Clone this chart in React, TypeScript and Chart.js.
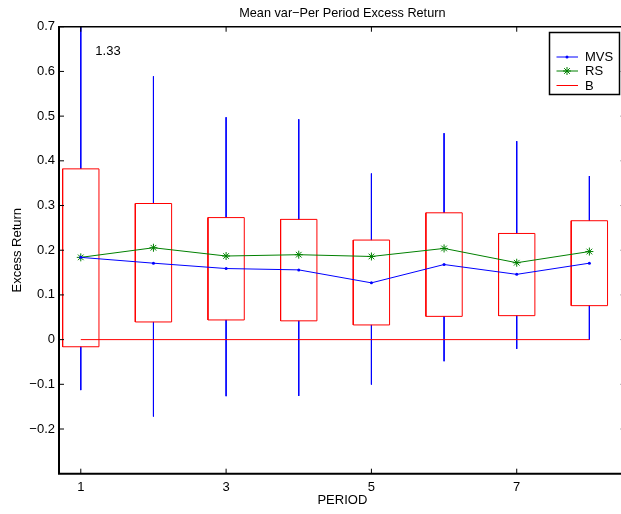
import { useEffect, useRef } from 'react';
import { Chart, registerables } from 'chart.js';

Chart.register(...registerables);

// ---- data ----
const periods = [1, 2, 3, 4, 5, 6, 7, 8];
const mvsMean = [0.184, 0.171, 0.159, 0.156, 0.127, 0.168, 0.146, 0.171];
const rsMean = [0.184, 0.2055, 0.187, 0.19, 0.186, 0.204, 0.172, 0.197];
const benchmark = [0, 0, 0, 0, 0, 0, 0, 0];
const boxTop = [0.382, 0.3045, 0.273, 0.269, 0.2227, 0.2837, 0.2375, 0.266];
const boxBottom = [-0.016, 0.0395, 0.044, 0.042, 0.0328, 0.052, 0.0536, 0.076];
const whiskerHigh = [1.33, 0.589, 0.4975, 0.493, 0.3716, 0.4618, 0.444, 0.366];
const whiskerLow = [-0.113, -0.172, -0.1266, -0.126, -0.1005, -0.0484, -0.0208, 0.0];
const xTickValues = [1, 3, 5, 7];
const yTickValues = [-0.2, -0.1, 0, 0.1, 0.2, 0.3, 0.4, 0.5, 0.6, 0.7];
const legendLabels = ['MVS', 'RS', 'B'];
const titleText = 'Mean var\u2212Per Period Excess Return';
const xTitle = 'PERIOD';
const yTitle = 'Excess Return';

const FONT = '"Liberation Sans", Arial, Helvetica, sans-serif';
const BOX_HALF = 0.25;
const BLUE = '#0000ff';
const GREEN = '#008000';
const RED = '#ff0000';

function fmtY(v: number): string {
  if (Math.abs(v) < 1e-9) return '0';
  const s = Math.abs(v).toFixed(1);
  return v < 0 ? '\u2212' + s : s;
}

const matlabPlugin = {
  id: 'matlabDecor',
  afterDraw(chart: any) {
    const ctx = chart.ctx;
    const { left, right, top, bottom } = chart.chartArea;
    const xs = chart.scales.x;
    const ys = chart.scales.y;
    ctx.save();
    ctx.strokeStyle = '#000';
    // box
    ctx.lineWidth = 1.5;
    ctx.beginPath();
    ctx.moveTo(left, top);
    ctx.lineTo(right, top);
    ctx.lineTo(right, bottom);
    ctx.stroke();
    ctx.lineWidth = 2;
    ctx.beginPath();
    ctx.moveTo(left, top - 0.75);
    ctx.lineTo(left, bottom);
    ctx.lineTo(right, bottom);
    ctx.stroke();
    // inward ticks
    ctx.lineWidth = 1;
    ctx.beginPath();
    for (const v of yTickValues) {
      const py = ys.getPixelForValue(v);
      ctx.moveTo(left, py);
      ctx.lineTo(left + 5, py);
      ctx.moveTo(right, py);
      ctx.lineTo(right - 5, py);
    }
    for (const v of xTickValues) {
      const px = xs.getPixelForValue(v);
      ctx.moveTo(px, bottom);
      ctx.lineTo(px, bottom - 5);
      ctx.moveTo(px, top);
      ctx.lineTo(px, top + 5);
    }
    ctx.stroke();

    // annotation of clipped whisker
    ctx.fillStyle = '#000';
    ctx.font = '13px ' + FONT;
    ctx.textAlign = 'left';
    ctx.textBaseline = 'middle';
    const ax = xs.getPixelForValue(periods[0] + 0.2);
    ctx.fillText(whiskerHigh[0].toFixed(2), ax, top + 25);

    // axis titles
    ctx.textAlign = 'center';
    ctx.fillText(xTitle, (left + right) / 2, 500);
    ctx.save();
    ctx.translate(17, (top + bottom) / 2);
    ctx.rotate(-Math.PI / 2);
    ctx.fillText(yTitle, 0, 0);
    ctx.restore();

    // legend
    const lx0 = 549.5, ly0 = 32.5, lw = 70, lh = 62;
    ctx.fillStyle = '#fff';
    ctx.fillRect(lx0, ly0, lw, lh);
    ctx.lineWidth = 1.5;
    ctx.strokeStyle = '#000';
    ctx.strokeRect(lx0, ly0, lw, lh);
    const rows = [57, 71, 85.5];
    const colors = [BLUE, GREEN, RED];
    rows.forEach((ry, i) => {
      ctx.strokeStyle = colors[i];
      ctx.lineWidth = 1;
      ctx.beginPath();
      ctx.moveTo(556.5, ry);
      ctx.lineTo(578, ry);
      ctx.stroke();
      if (i === 0) {
        ctx.fillStyle = BLUE;
        ctx.beginPath();
        ctx.arc(567, ry, 1.5, 0, Math.PI * 2);
        ctx.fill();
      } else if (i === 1) {
        ctx.beginPath();
        const r = 4;
        for (let k = 0; k < 4; k++) {
          const a = (k * Math.PI) / 4;
          ctx.moveTo(567 - r * Math.cos(a), ry - r * Math.sin(a));
          ctx.lineTo(567 + r * Math.cos(a), ry + r * Math.sin(a));
        }
        ctx.stroke();
      }
      ctx.fillStyle = '#000';
      ctx.textAlign = 'left';
      ctx.textBaseline = 'middle';
      ctx.font = '13px ' + FONT;
      ctx.fillText(legendLabels[i], 585, ry + 0.5);
    });
    ctx.restore();
  },
};

export default function App() {
  const ref = useRef<HTMLCanvasElement>(null);
  useEffect(() => {
    if (!ref.current) return;
    const whiskerPts: any[] = [];
    const boxPts: any[] = [];
    periods.forEach((p, i) => {
      whiskerPts.push({ x: p, y: whiskerHigh[i] }, { x: p, y: boxTop[i] }, { x: p, y: null });
      whiskerPts.push({ x: p, y: boxBottom[i] }, { x: p, y: whiskerLow[i] }, { x: p, y: null });
      boxPts.push(
        { x: p - BOX_HALF, y: boxBottom[i] },
        { x: p + BOX_HALF, y: boxBottom[i] },
        { x: p + BOX_HALF, y: boxTop[i] },
        { x: p - BOX_HALF, y: boxTop[i] },
        { x: p - BOX_HALF, y: boxBottom[i] },
        { x: p, y: null }
      );
    });
    const chart = new Chart(ref.current, {
      type: 'line',
      data: {
        datasets: [
          {
            label: legendLabels[0],
            data: periods.map((p, i) => ({ x: p, y: mvsMean[i] })),
            borderColor: BLUE,
            backgroundColor: BLUE,
            borderWidth: 1,
            pointRadius: 1.5,
            pointStyle: 'circle',
            pointBorderWidth: 0,
          },
          {
            label: legendLabels[1],
            data: periods.map((p, i) => ({ x: p, y: rsMean[i] })),
            borderColor: GREEN,
            backgroundColor: GREEN,
            borderWidth: 1,
            pointRadius: 4,
            pointStyle: 'star',
            pointBorderWidth: 1,
          },
          {
            label: legendLabels[2],
            data: periods.map((p, i) => ({ x: p, y: benchmark[i] })),
            borderColor: RED,
            borderWidth: 1,
            pointRadius: 0,
          },
          {
            label: 'boxes',
            data: boxPts,
            borderColor: RED,
            borderWidth: 1,
            pointRadius: 0,
            spanGaps: false,
          },
          {
            label: 'whiskers',
            data: whiskerPts,
            borderColor: BLUE,
            borderWidth: 1,
            pointRadius: 0,
            spanGaps: false,
          },
        ],
      },
      options: {
        responsive: false,
        animation: false,
        layout: { padding: { left: 0, right: 14.3, top: 0, bottom: 0 } },
        plugins: {
          legend: { display: false },
          tooltip: { enabled: false },
          title: {
            display: true,
            text: titleText,
            fullSize: false,
            color: '#000',
            font: { family: FONT, size: 12.7, weight: 'normal', lineHeight: 1.2 },
            padding: { top: 5.5, bottom: 6 },
          },
        },
        scales: {
          x: {
            type: 'linear',
            min: 0.7,
            max: 8.5,
            grid: { display: false, drawTicks: false },
            border: { display: false },
            afterBuildTicks: (s: any) => {
              s.ticks = xTickValues.map((v) => ({ value: v }));
            },
            afterFit: (s: any) => {
              s.height = 40.3;
            },
            ticks: {
              color: '#000',
              padding: 6,
              font: { family: FONT, size: 13 },
              maxRotation: 0,
              callback: (v: any) => String(v),
            },
          },
          y: {
            type: 'linear',
            min: -0.3,
            max: 0.7,
            grid: { display: false, drawTicks: false },
            border: { display: false },
            afterBuildTicks: (s: any) => {
              s.ticks = yTickValues.map((v) => ({ value: v }));
            },
            afterFit: (s: any) => {
              s.width = 59;
            },
            ticks: {
              color: '#000',
              padding: 4,
              font: { family: FONT, size: 13 },
              callback: (v: any) => fmtY(Number(v)),
            },
          },
        },
      },
      plugins: [matlabPlugin],
    } as any);
    return () => chart.destroy();
  }, []);

  return (
    <div
      style={{
        position: 'fixed',
        left: 0,
        top: 0,
        width: 621,
        height: 514,
        overflow: 'hidden',
        background: '#fff',
      }}
    >
      <canvas ref={ref} width={640} height={514} style={{ display: 'block', width: 640, height: 514 }} />
    </div>
  );
}
